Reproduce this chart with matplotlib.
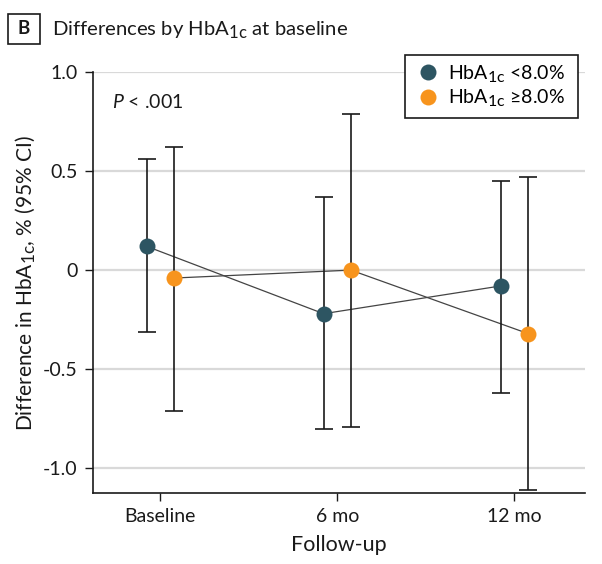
import matplotlib
matplotlib.use("Agg")
import matplotlib.pyplot as plt
from matplotlib.patches import Rectangle
try:
    import matplotlib._mathtext as _mt
    _mt.SHRINK_FACTOR = 0.82
except Exception:
    pass

plt.rcParams['font.family'] = ['Lato', 'DejaVu Sans']
plt.rcParams['mathtext.fontset'] = 'custom'
plt.rcParams['mathtext.rm'] = 'Lato'
plt.rcParams['mathtext.it'] = 'Lato:italic'
plt.rcParams['mathtext.default'] = 'regular'
plt.rcParams['axes.unicode_minus'] = False

categories = ["Baseline", "6 mo", "12 mo"]
low_vals = [0.12, -0.22, -0.08]
low_ci_lo = [-0.31, -0.80, -0.62]
low_ci_hi = [0.56, 0.37, 0.45]
high_vals = [-0.04, 0.0, -0.32]
high_ci_lo = [-0.71, -0.79, -1.11]
high_ci_hi = [0.62, 0.79, 0.47]
yticks = [1.0, 0.5, 0, -0.5, -1.0]
ytick_labels = ["1.0", "0.5", "0", "-0.5", "-1.0"]

c_low = "#2d5562"
c_high = "#f7941d"
ink = "#1a1a1a"

fig = plt.figure(figsize=(6.02, 5.64), dpi=100)
ax = fig.add_axes([93/602, 1-493/564, (585-93)/602, (493-72)/564])

x = list(range(len(categories)))
off = 0.077
xl = [i - off for i in x]
xh = [i + off for i in x]

for yt in yticks:
    ax.axhline(yt, color="#d9d9d9", lw=1.6, zorder=0)

ax.plot(xl, low_vals, color="#444444", lw=0.9, zorder=2)
ax.plot(xh, high_vals, color="#444444", lw=0.9, zorder=2)

for xs, v, lo, hi, c, lab in [(xl, low_vals, low_ci_lo, low_ci_hi, c_low, "HbA$_{1c}$ <8.0%"),
                              (xh, high_vals, high_ci_lo, high_ci_hi, c_high, "HbA$_{1c}$ \u22658.0%")]:
    yerr = [[v[i] - lo[i] for i in range(3)], [hi[i] - v[i] for i in range(3)]]
    ax.errorbar(xs, v, yerr=yerr, fmt="none", ecolor=ink, elinewidth=1.2,
                capsize=6.5, capthick=1.2, zorder=3)
    ax.plot(xs, v, "o", color=c, markersize=11.5, markeredgewidth=0, zorder=4, label=lab)

ax.set_xlim(-0.38, 2.4)
ax.set_ylim(-1.125, 1.0)
ax.set_xticks(x)
ax.set_xticklabels(categories, fontsize=14)
ax.set_yticks(yticks)
ax.set_yticklabels(ytick_labels, fontsize=14)
ax.tick_params(axis="both", direction="out", length=6, width=1, color=ink, labelcolor=ink, pad=5)
for s in ["top", "right"]:
    ax.spines[s].set_visible(False)
for s in ["left", "bottom"]:
    ax.spines[s].set_linewidth(1.2)
    ax.spines[s].set_color(ink)

ax.set_xlabel("Follow-up", fontsize=15.5, color=ink, labelpad=7)
ax.set_ylabel("Difference in HbA$_{1c}$, % (95% CI)", fontsize=15, color=ink, labelpad=4)

ax.text(-0.27, 0.85, "$\\it{P}$ < .001", fontsize=14, color=ink, va="center")

leg = ax.legend(loc="upper left", bbox_to_anchor=(418/602, 1-62.5/564), bbox_transform=fig.transFigure,
                frameon=False, fontsize=14, handletextpad=0.55, borderpad=0,
                labelspacing=0.2, handlelength=1.0, borderaxespad=0)
leg.set_zorder(7)
box = Rectangle((405/602, 1-118/564), 173/602, 63/564, transform=fig.transFigure,
                facecolor="white", edgecolor=ink, lw=1.2, zorder=6, clip_on=False)
ax.add_patch(box)

fig.patches.append(Rectangle((8/602, 1-44/564), 32/602, 30/564, transform=fig.transFigure,
                             fill=False, edgecolor=ink, lw=1.2))
fig.text(24/602, 1-29/564, "B", fontsize=13.5, fontweight="bold", ha="center", va="center", color=ink)
fig.text(52/602, 1-29/564, "Differences by HbA$_{1c}$ at baseline", fontsize=14.6, ha="left", va="center", color=ink)

fig.savefig("out.png", dpi=100)
